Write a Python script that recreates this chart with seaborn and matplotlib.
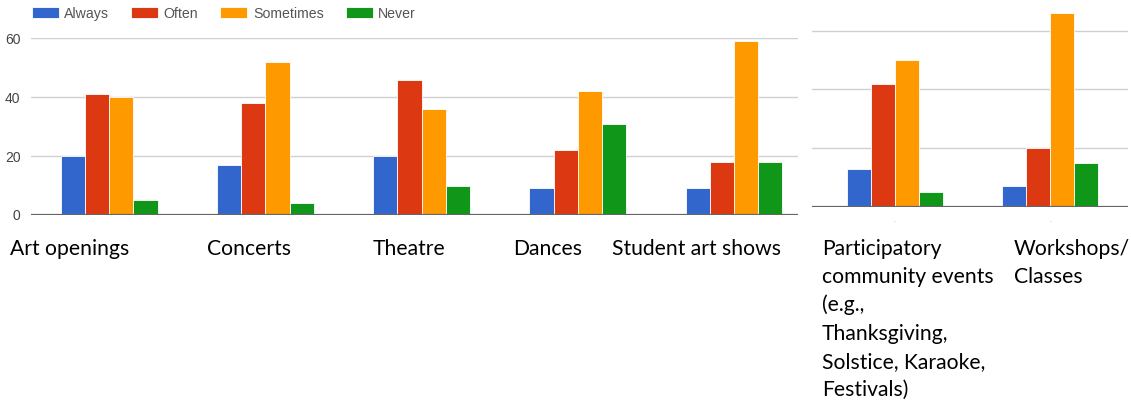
import numpy as np
import pandas as pd
import matplotlib
matplotlib.use('Agg')
import matplotlib.pyplot as plt
import seaborn as sns

# survey answers: how often people attend each kind of event
levels = ['Always', 'Often', 'Sometimes', 'Never']
colors = ['#3366cc', '#dc3912', '#ff9900', '#109618']

main_events = ['Art openings', 'Concerts', 'Theatre', 'Dances', 'Student art shows']
main_always = [20, 17, 20, 9, 9]
main_often = [41, 38, 46, 22, 18]
main_sometimes = [40, 52, 36, 42, 59]
main_never = [5, 4, 10, 31, 18]

extra_events = ['Participatory\ncommunity events\n(e.g.,\nThanksgiving,\nSolstice, Karaoke,\nFestivals)',
                'Workshops/\nClasses']
extra_always = [13, 7]
extra_often = [42, 20]
extra_sometimes = [50, 66]
extra_never = [5, 15]

y_ticks = [0, 20, 40, 60]


def to_long(events, always, often, sometimes, never):
    rows = []
    for i, ev in enumerate(events):
        for lev, vals in zip(levels, [always, often, sometimes, never]):
            rows.append({'event': ev, 'level': lev, 'count': vals[i]})
    return pd.DataFrame(rows)


df_main = to_long(main_events, main_always, main_often, main_sometimes, main_never)
df_extra = to_long(extra_events, extra_always, extra_often, extra_sometimes, extra_never)

sns.set_style('white')
plt.rcParams['font.family'] = ['Liberation Sans', 'DejaVu Sans']

W, H = 1131, 404
fig = plt.figure(figsize=(W / 100, H / 100), dpi=100)
ax1 = fig.add_axes([31 / W, 1 - 215 / H, (798 - 31) / W, 176.7 / H])
ax2 = fig.add_axes([812 / W, 1 - 206.7 / H, 316 / W, 205.3 / H])

sns.barplot(data=df_main, x='event', y='count', hue='level', order=main_events,
            hue_order=levels, palette=colors, saturation=1, width=0.62,
            edgecolor='white', linewidth=0.6, ax=ax1)
sns.barplot(data=df_extra, x='event', y='count', hue='level', order=extra_events,
            hue_order=levels, palette=colors, saturation=1, width=0.62,
            edgecolor='white', linewidth=0.6, legend=False, ax=ax2)

for ax in (ax1, ax2):
    for s in ax.spines.values():
        s.set_visible(False)
    ax.set_xlabel('')
    ax.set_ylabel('')
    ax.set_yticks(y_ticks)
    ax.grid(axis='y', color='#d0d0d0', linewidth=1)
    ax.set_axisbelow(True)
    ax.axhline(0, color='#666666', linewidth=1.6, zorder=5)

ax1.set_xlim(-0.5, 4.41)
ax1.set_ylim(0, 60)
ax1.set_xticks([])
ax1.tick_params(axis='y', length=0, pad=7.5, labelsize=10, labelcolor='#444444')

ax2.set_xlim(-0.535, 1.5)
ax2.set_ylim(0, 70)
ax2.set_xticks([0, 1])
ax2.set_xticklabels(['-', '-'], fontsize=4, color='#aaaaaa')
ax2.tick_params(axis='x', length=0, pad=9)
ax2.tick_params(axis='y', length=0, labelleft=False)

# legend along the top
handles, labels = ax1.get_legend_handles_labels()
ax1.legend(handles=handles, labels=labels, loc='lower left',
           bbox_to_anchor=(31.7 / W, 1 - 20.7 / H), bbox_transform=fig.transFigure,
           ncol=4, frameon=False, fontsize=10.2, labelcolor='#555555',
           handlelength=1.9, handleheight=0.85, handletextpad=0.4,
           columnspacing=1.55, borderpad=0, borderaxespad=0)

# category names sit below the charts as loose text, one line at a time
label_x = [10, 207, 373, 513, 612, 822, 1014]
for x, lab in zip(label_x, main_events + extra_events):
    for k, line in enumerate(lab.split('\n')):
        fig.text(x / W, 1 - (254.7 + 28.3 * k) / H, line, fontsize=15.2,
                 family=['Lato', 'DejaVu Sans'], va='baseline', ha='left',
                 color='black')

fig.savefig('out.png', dpi=100)
